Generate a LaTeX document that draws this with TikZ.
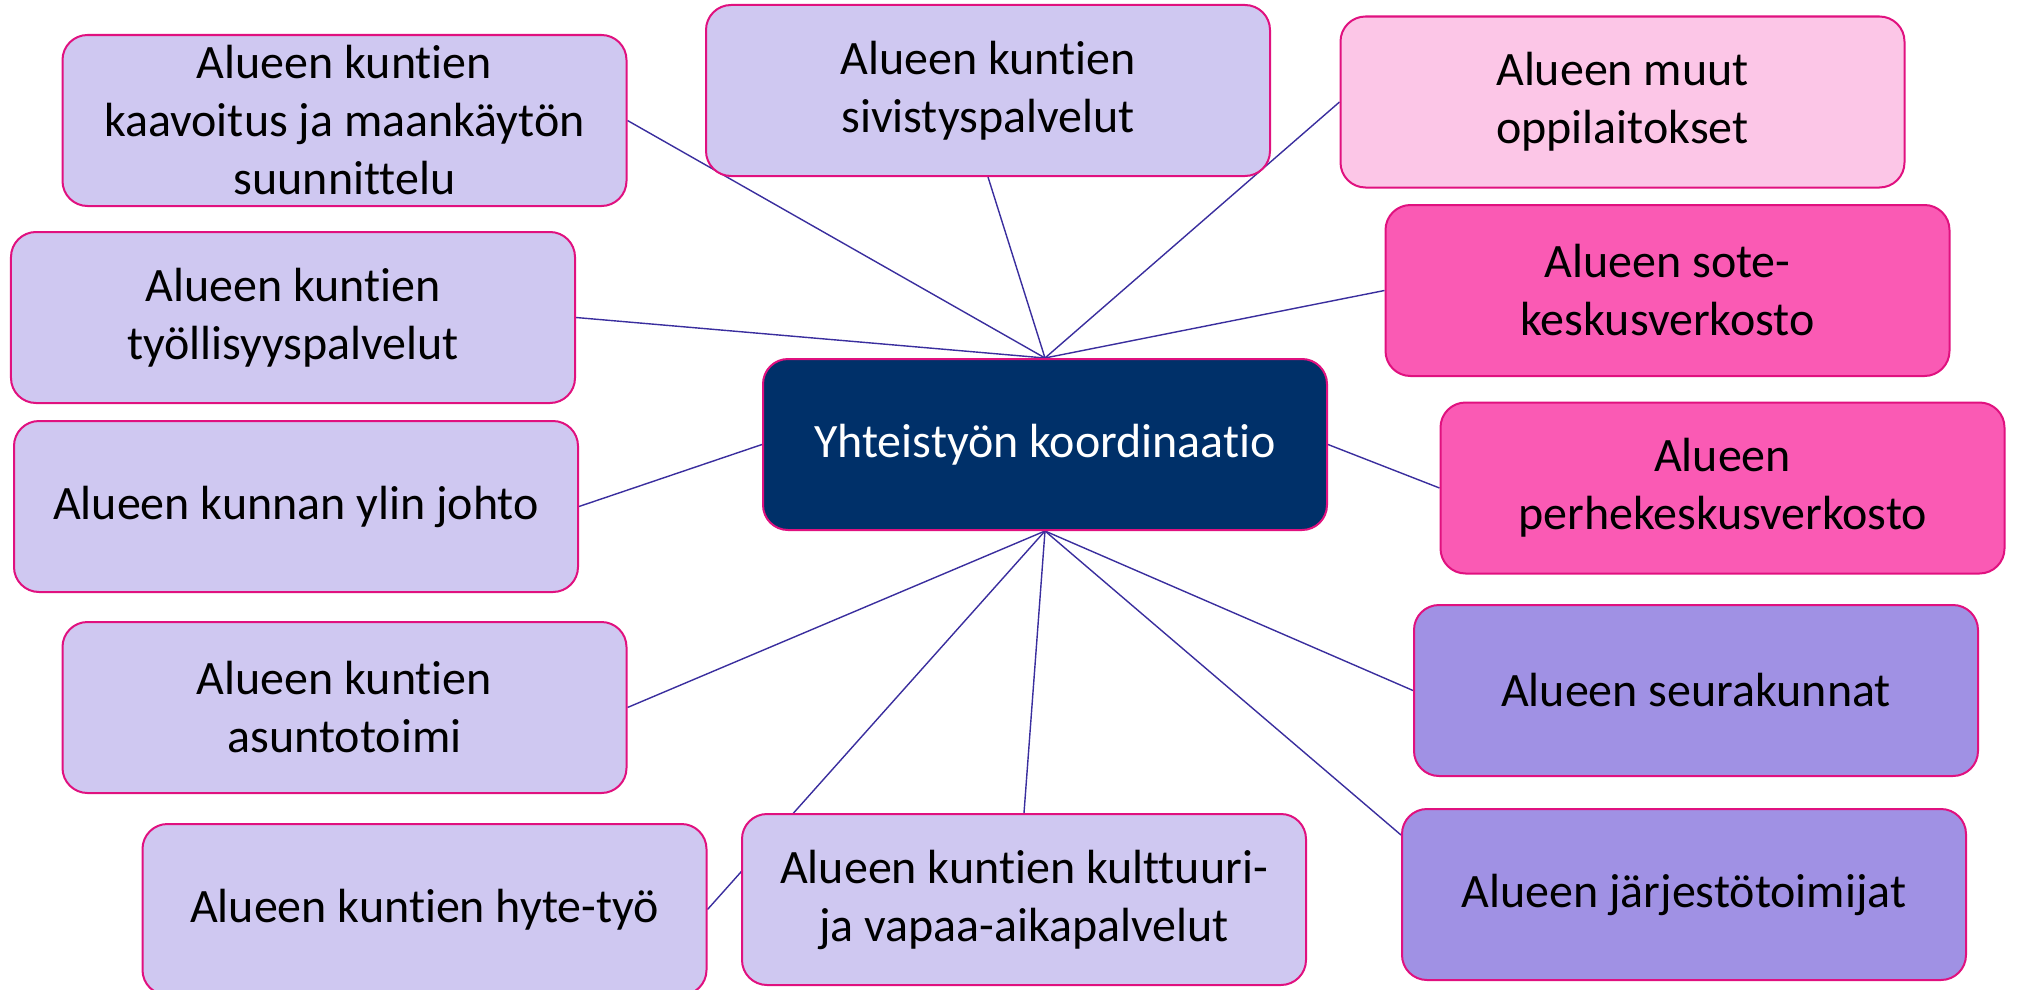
\documentclass[tikz,border=0pt]{standalone}
\usepackage{fontspec}
\setmainfont{Carlito}[Ligatures=NoCommon]
\usepackage{tikz}
\usetikzlibrary{backgrounds}

\definecolor{lila}{HTML}{CFC8F1}
\definecolor{vaaleapinkki}{HTML}{FCC6E7}
\definecolor{pinkki}{HTML}{FA5AB4}
\definecolor{violetti}{HTML}{A091E4}
\definecolor{tummasini}{HTML}{003069}
\definecolor{reuna}{HTML}{E0117F}
\definecolor{viiva}{HTML}{3A2E9E}

\begin{document}
\begin{tikzpicture}[
  box/.style={draw=reuna, line width=0.02cm, rounded corners=0.25cm,
    minimum width=5.64cm, minimum height=1.71cm, inner sep=0pt,
    align=center, font=\fontsize{13.65}{16.5}\selectfont},
  link/.style={draw=viiva, line width=0.4pt}]
\useasboundingbox (0,0) rectangle (20.2,-9.9);
% keskus
\node [box, fill=tummasini, text=white] (koord) at (10.45,-4.445) {Yhteistyön koordinaatio};
% vasen puoli
\node [box, fill=lila] (kaav) at (3.445,-1.205) {Alueen kuntien\\kaavoitus ja maankäytön\\suunnittelu};
\node [box, fill=lila] (tyo) at (2.93,-3.175) {Alueen kuntien\\työllisyyspalvelut};
\node [box, fill=lila] (johto) at (2.96,-5.065) {Alueen kunnan ylin johto};
\node [box, fill=lila] (asunto) at (3.445,-7.075) {Alueen kuntien\\asuntotoimi};
\node [box, fill=lila] (hyte) at (4.245,-9.095) {Alueen kuntien hyte-työ};
% keskellä
\node [box, fill=lila] (sivis) at (9.88,-0.905) {Alueen kuntien\\sivistyspalvelut};
\node [box, fill=lila] (kult) at (10.24,-8.995) {Alueen kuntien kulttuuri-\\ja vapaa-aikapalvelut};
% oikea puoli
\node [box, fill=vaaleapinkki] (muut) at (16.225,-1.02) {Alueen muut\\oppilaitokset};
\node [box, fill=pinkki] (sote) at (16.675,-2.905) {Alueen sote-\\keskusverkosto};
\node [box, fill=pinkki] (perhe) at (17.225,-4.88) {Alueen\\perhekeskusverkosto};
\node [box, fill=violetti] (seura) at (16.96,-6.905) {Alueen seurakunnat};
\node [box, fill=violetti] (jarj) at (16.84,-8.945) {Alueen järjestötoimijat};
% viivat laatikoiden alle
\begin{scope}[on background layer]
\draw [link] (kaav.east) -- (koord.north);
\draw [link] (sivis.south) -- (koord.north);
\draw [link] (muut.west) -- (koord.north);
\draw [link] (sote.west) -- (koord.north);
\draw [link] (tyo.east) -- (koord.north);
\draw [link] (johto.east) -- (koord.west);
\draw [link] (koord.east) -- (perhe.west);
\draw [link] (koord.south) -- (seura.west);
\draw [link] (koord.south) -- ([yshift=-0.27cm]jarj.north west);
\draw [link] (koord.south) -- (kult.north);
\draw [link] (koord.south) -- (hyte.east);
\draw [link] (koord.south) -- (asunto.east);
\end{scope}
\end{tikzpicture}
\end{document}
